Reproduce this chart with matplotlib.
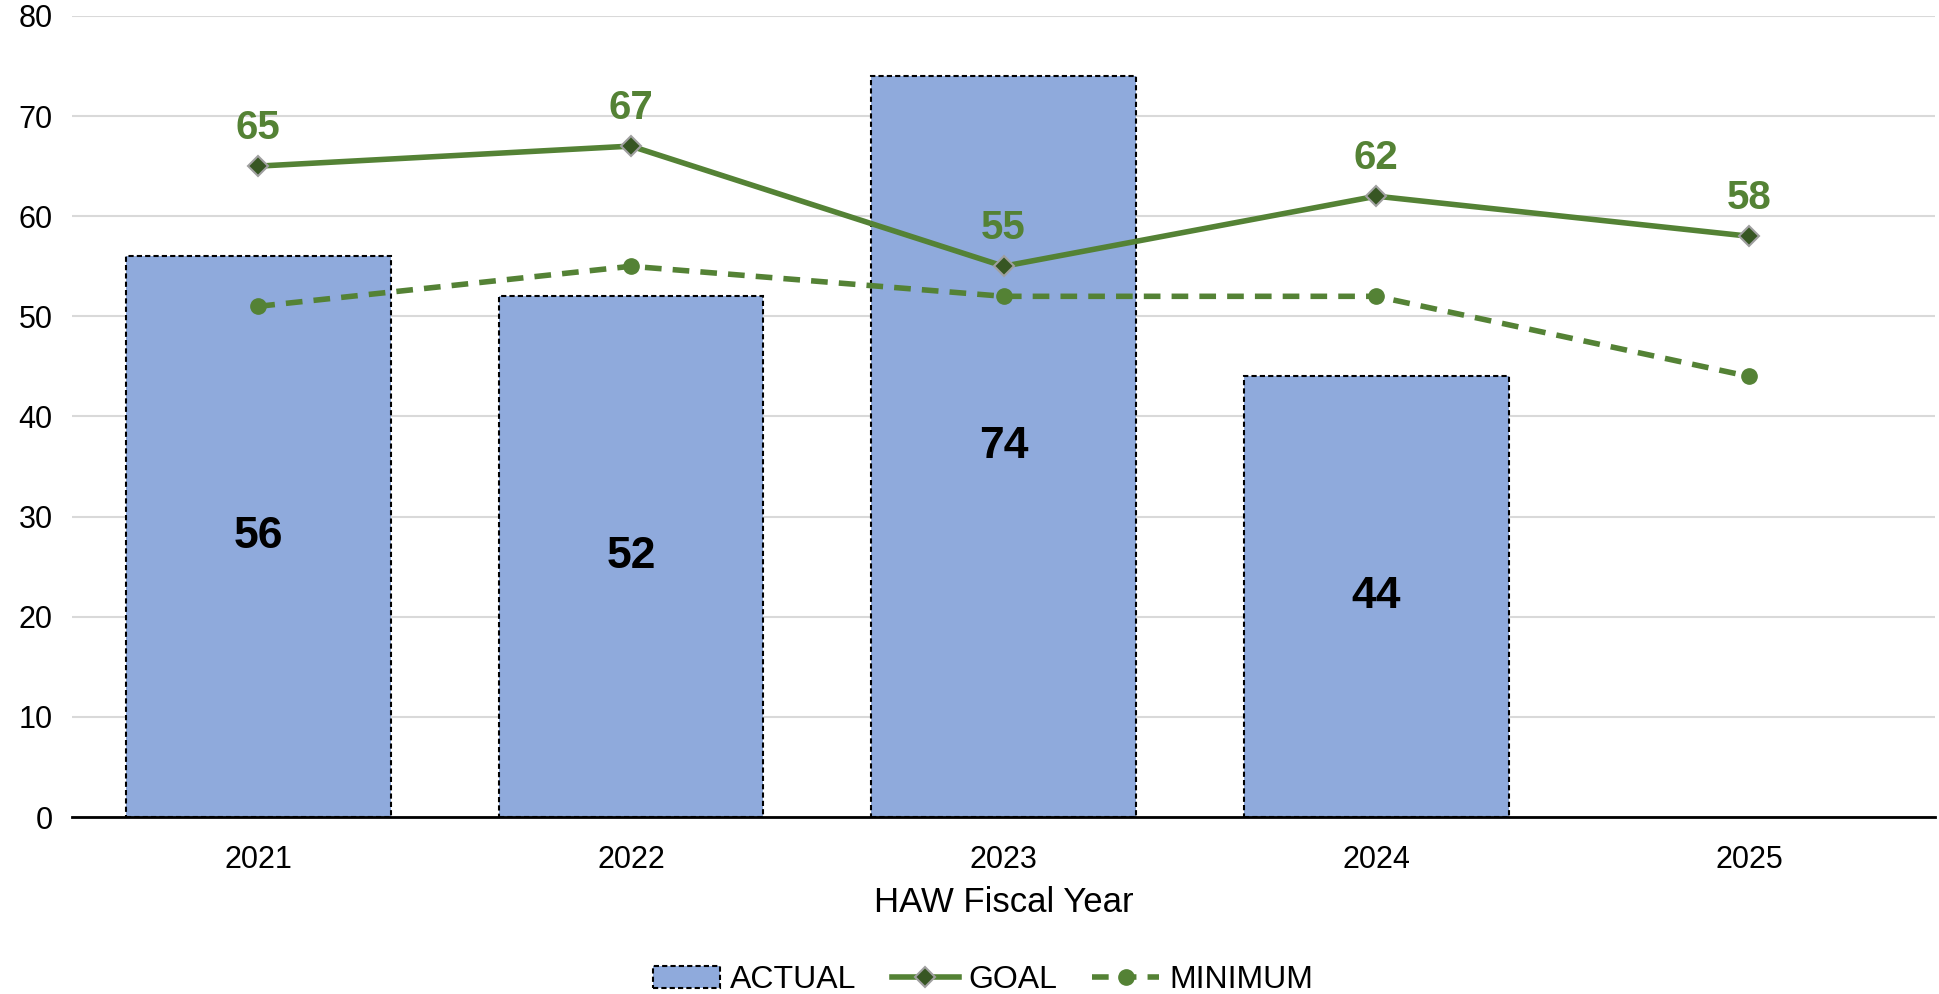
import matplotlib.pyplot as plt
import numpy as np

plt.rcParams['font.family'] = ['Liberation Sans', 'DejaVu Sans']

# data
years = ['2021', '2022', '2023', '2024', '2025']
actual = [56, 52, 74, 44, np.nan]
goal = [65, 67, 55, 62, 58]
minimum = [51, 55, 52, 52, 44]

bar_color = '#8FAADC'
green = '#548235'

fig = plt.figure(figsize=(19.39, 9.94), dpi=100)
ax = fig.add_axes([0.0371, 0.178, 0.961, 0.806])

x = np.arange(len(years))
bars = ax.bar(x, actual, width=0.71, color=bar_color, edgecolor='black',
              linestyle=(0, (2.5, 1.5)), linewidth=1.5, label='ACTUAL', zorder=2)
l_goal, = ax.plot(x, goal, color=green, linewidth=4, marker='D', markersize=10,
                  markerfacecolor='#375623', markeredgecolor='#A0A0A0', markeredgewidth=1.5,
                  label='GOAL', zorder=4)
l_min, = ax.plot(x, minimum, color=green, linewidth=4, linestyle=(0, (3, 2)), marker='o',
                 markersize=11, markerfacecolor=green, markeredgecolor=green,
                 label='MINIMUM', zorder=3)

# labels
for xi, v in zip(x, actual):
    if not np.isnan(v):
        ax.text(xi, v / 2, '%d' % v, ha='center', va='center', fontsize=32,
                fontweight='bold', color='black', zorder=5)
for xi, v in zip(x, goal):
    ax.annotate('%d' % v, (xi, v), xytext=(0, 14), textcoords='offset points',
                ha='center', va='bottom', fontsize=29, fontweight='bold', color=green)

ax.set_xlim(-0.5, 4.5)
ax.set_ylim(0, 80)
ax.set_yticks(range(0, 81, 10))
ax.set_xticks(x)
ax.set_xticklabels(years)
ax.tick_params(axis='both', length=0, labelsize=22)
ax.tick_params(axis='x', pad=20)
ax.tick_params(axis='y', pad=14)
ax.yaxis.grid(True, color='#D9D9D9', linewidth=1.5, zorder=0)
ax.set_axisbelow(True)
for s in ['top', 'right', 'left']:
    ax.spines[s].set_visible(False)
ax.spines['bottom'].set_linewidth(2)
ax.spines['bottom'].set_zorder(6)
ax.set_xlabel('HAW Fiscal Year', fontsize=25, labelpad=8)

fig.legend(handles=[bars, l_goal, l_min], labels=['ACTUAL', 'GOAL', 'MINIMUM'],
           loc='center', bbox_to_anchor=(0.507, 0.014), ncol=3, frameon=False,
           fontsize=23, handlelength=2.1, columnspacing=1.1, handletextpad=0.3)

fig.savefig('out.png', dpi=100)
